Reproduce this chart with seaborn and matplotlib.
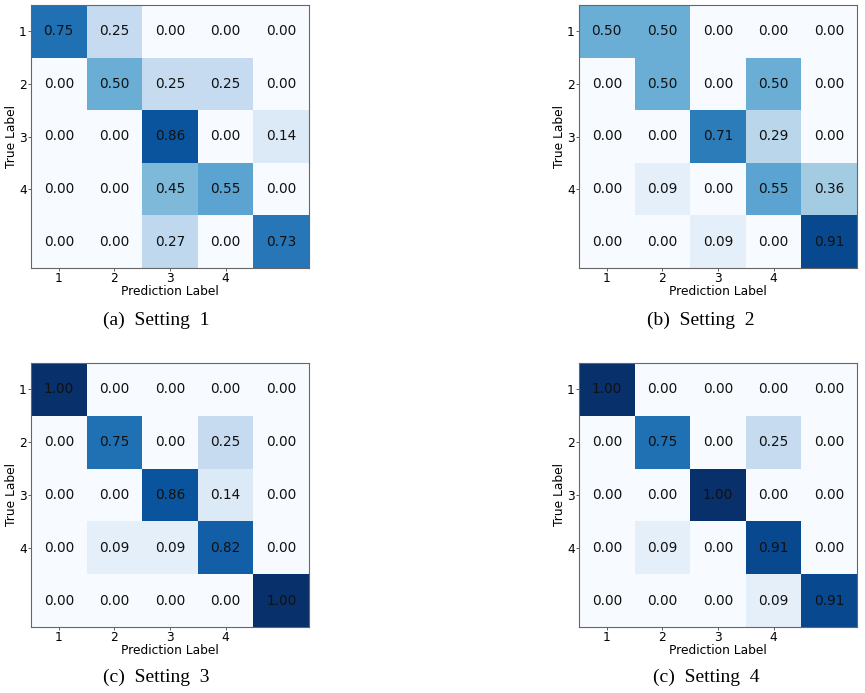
import numpy as np
import pandas as pd
import matplotlib
matplotlib.use("Agg")
import matplotlib.pyplot as plt
import seaborn as sns

tick_labels = ["1", "2", "3", "4"]
setting1 = [[0.75, 0.25, 0.00, 0.00, 0.00],
            [0.00, 0.50, 0.25, 0.25, 0.00],
            [0.00, 0.00, 0.86, 0.00, 0.14],
            [0.00, 0.00, 0.45, 0.55, 0.00],
            [0.00, 0.00, 0.27, 0.00, 0.73]]
setting2 = [[0.50, 0.50, 0.00, 0.00, 0.00],
            [0.00, 0.50, 0.00, 0.50, 0.00],
            [0.00, 0.00, 0.71, 0.29, 0.00],
            [0.00, 0.09, 0.00, 0.55, 0.36],
            [0.00, 0.00, 0.09, 0.00, 0.91]]
setting3 = [[1.00, 0.00, 0.00, 0.00, 0.00],
            [0.00, 0.75, 0.00, 0.25, 0.00],
            [0.00, 0.00, 0.86, 0.14, 0.00],
            [0.00, 0.09, 0.09, 0.82, 0.00],
            [0.00, 0.00, 0.00, 0.00, 1.00]]
setting4 = [[1.00, 0.00, 0.00, 0.00, 0.00],
            [0.00, 0.75, 0.00, 0.25, 0.00],
            [0.00, 0.00, 1.00, 0.00, 0.00],
            [0.00, 0.09, 0.00, 0.91, 0.00],
            [0.00, 0.00, 0.00, 0.09, 0.91]]
captions = ["(a)  Setting  1", "(b)  Setting  2", "(c)  Setting  3", "(c)  Setting  4"]

W, H = 865, 693
fig = plt.figure(figsize=(W / 100, H / 100), dpi=100)

# axes pixel boxes: left, top, right, bottom
boxes = [(31, 5, 309, 268), (579, 5, 857, 268),
         (31, 363, 309, 627), (579, 363, 857, 627)]
cap_pos = [(156, 320), (701, 320), (156, 677), (706, 677)]
mats = [setting1, setting2, setting3, setting4]

for mat, (l, t, r, b), cap, (cx, cy) in zip(mats, boxes, captions, cap_pos):
    ax = fig.add_axes([l / W, 1 - b / H, (r - l) / W, (b - t) / H])
    df = pd.DataFrame(np.array(mat))
    sns.heatmap(df, ax=ax, cmap="Blues", vmin=0, vmax=1, cbar=False,
                annot=True, fmt=".2f",
                annot_kws={"color": "#111111", "fontsize": 9.8},
                xticklabels=False, yticklabels=False)
    ax.set_xticks([0.5, 1.5, 2.5, 3.5])
    ax.set_xticklabels(tick_labels, fontsize=8.8)
    ax.set_yticks([0.5, 1.5, 2.5, 3.5])
    ax.set_yticklabels(tick_labels, fontsize=8.8, rotation=0)
    ax.tick_params(length=2, width=0.6, color="#444444", pad=1)
    ax.set_xlabel("Prediction Label", fontsize=8.8, labelpad=0)
    ax.set_ylabel("True Label", fontsize=8.8, labelpad=1)
    for s in ax.spines.values():
        s.set_visible(True)
        s.set_color("#666666")
        s.set_linewidth(0.8)
    fig.text(cx / W, 1 - cy / H, cap, ha="center", va="center",
             family="Liberation Serif", fontsize=14)

fig.savefig("out.png", dpi=100)
